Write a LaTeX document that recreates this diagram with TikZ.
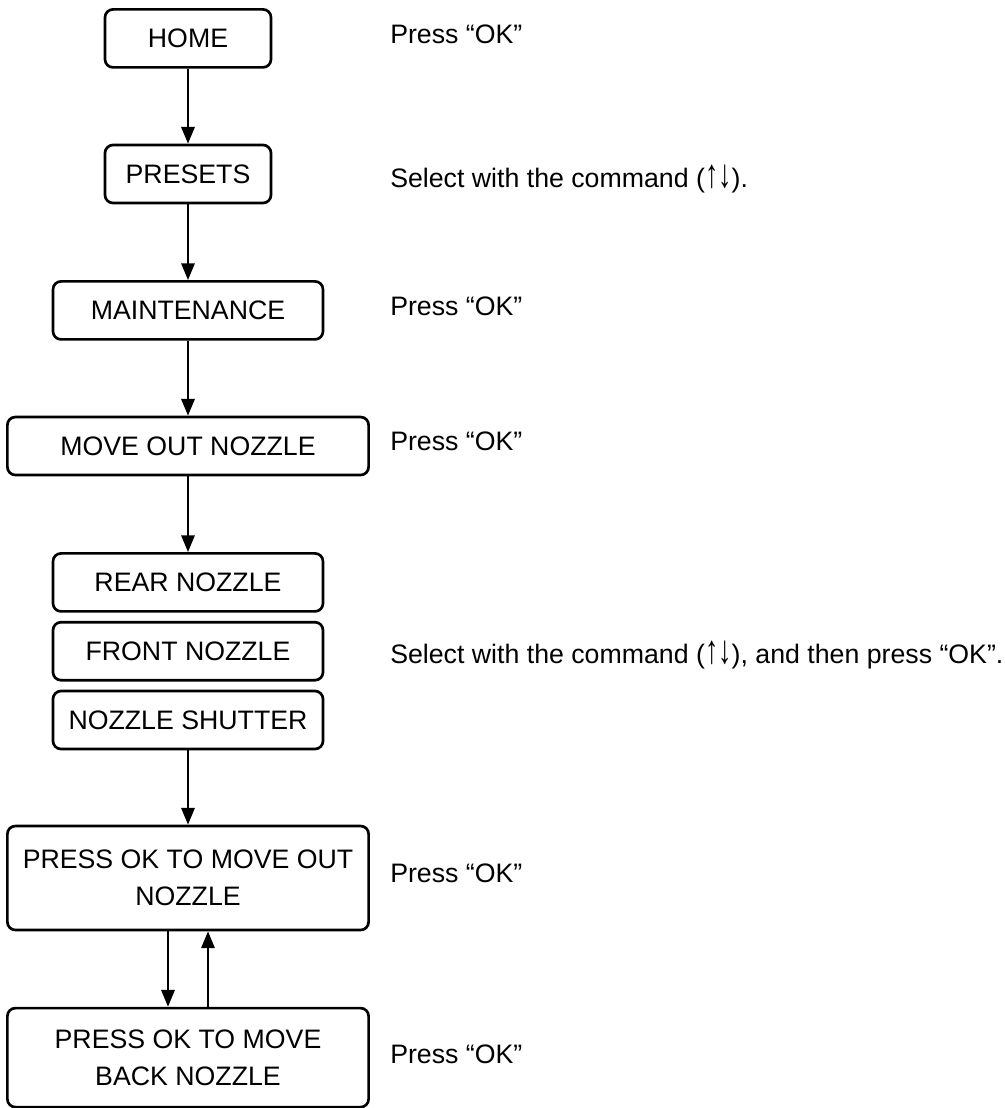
\documentclass[tikz,border=0pt]{standalone}
\usepackage{fontspec}
\usepackage{graphicx}
\setmainfont{Liberation Sans}
\usetikzlibrary{arrows.meta, positioning}

% up/down keys, drawn as tall as the capitals
\newcommand{\updownkeys}{\scalebox{1}[1.5]{↑↓}}

\begin{document}
\begin{tikzpicture}[
    menu/.style={draw, line width=1.9pt, rounded corners=0.2cm, align=center, inner sep=0pt, minimum height=1.45cm},
    note/.style={anchor=base west, inner sep=0pt},
    flow/.style={line width=1.9pt, -{Triangle[length=0.42cm, width=0.33cm]}},
    font=\fontsize{19}{26.2}\selectfont
]
% Frame
\useasboundingbox (0,0) rectangle (25.125,-27.7);

% Menu boxes
\node[menu, minimum width=4.15cm] (home) at (4.7,-0.96) {HOME};
\node[menu, minimum width=4.15cm] (presets) at (4.7,-4.35) {PRESETS};
\node[menu, minimum width=6.75cm] (maint) at (4.7,-7.76) {MAINTENANCE};
\node[menu, minimum width=9.03cm] (moveout) at (4.7,-11.15) {MOVE OUT NOZZLE};
\foreach \name/\y/\txt in {rear/-14.56/REAR NOZZLE, front/-16.28/FRONT NOZZLE, shutter/-18.0/NOZZLE SHUTTER} {
    \node[menu, minimum width=6.75cm] (\name) at (4.7,\y) {\txt};
}
\node[menu, minimum width=9.03cm, minimum height=2.6cm] (pressout) at (4.7,-21.95) {PRESS OK TO MOVE OUT\\NOZZLE};
\node[menu, minimum width=9.03cm, minimum height=2.475cm] (pressback) at (4.7,-26.44) {PRESS OK TO MOVE\\BACK NOZZLE};

% Connectors
\draw[flow] (home) -- (presets);
\draw[flow] (presets) -- (maint);
\draw[flow] (maint) -- (moveout);
\draw[flow] (moveout) -- (rear);
\draw[flow] (shutter) -- (pressout);
\draw[flow] ([xshift=-0.5cm]pressout.south) -- ([xshift=-0.5cm]pressback.north);
\draw[flow] ([xshift=0.5cm]pressback.north) -- ([xshift=0.5cm]pressout.south);

% Instructions
\node[note] (note1) at (9.75,-1.075) {Press “OK”};
\node[note] (note2) at (9.75,-4.675) {Select with the command (\updownkeys).};
\node[note] (note3) at (9.75,-7.875) {Press “OK”};
\node[note] (note4) at (9.75,-11.25) {Press “OK”};
\node[note] (note5) at (9.75,-16.575) {Select with the command (\updownkeys), and then press “OK”.};
\node[note] (note6) at (9.75,-22.05) {Press “OK”};
\node[note] (note7) at (9.75,-26.575) {Press “OK”};
\end{tikzpicture}
\end{document}
